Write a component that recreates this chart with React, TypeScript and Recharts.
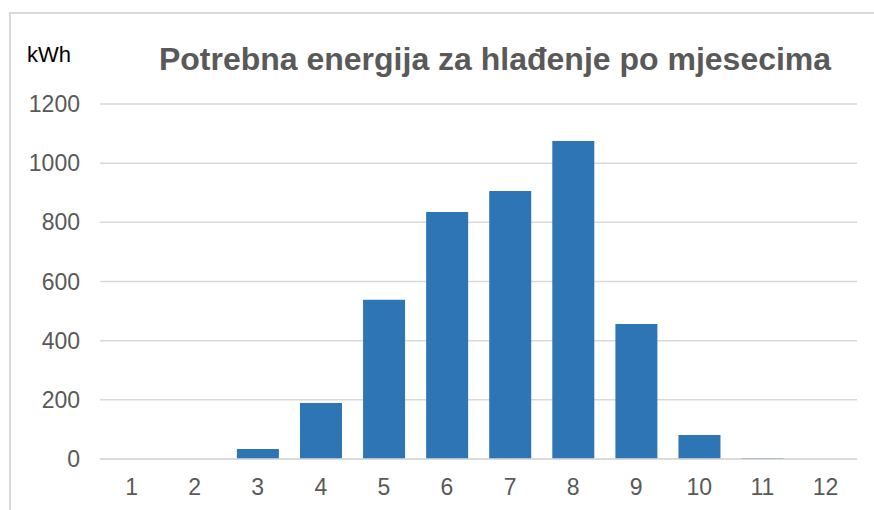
import { FC } from 'react';
import { BarChart, Bar, XAxis, YAxis, CartesianGrid } from 'recharts';

const months = ['1', '2', '3', '4', '5', '6', '7', '8', '9', '10', '11', '12'];
const energy = [0, 0, 34, 189, 538, 835, 906, 1075, 456, 81, 3, 0];
const yTicks = [0, 200, 400, 600, 800, 1000, 1200];

const chartData = months.map((m, i) => ({ month: m, kwh: energy[i] }));

const font = '"Liberation Sans", Arial, sans-serif';

const App: FC = () => {
  return (
    <div
      style={{
        position: 'absolute',
        left: 0,
        top: 0,
        width: 874,
        height: 510,
        overflow: 'hidden',
        background: '#fff',
        fontFamily: font
      }}
    >
      <div
        style={{
          position: 'absolute',
          left: 9,
          top: 12,
          width: 900,
          height: 600,
          border: '2px solid #d9d9d9'
        }}
      />
      <div
        style={{
          position: 'absolute',
          left: 27,
          top: 42,
          fontSize: 22,
          color: '#000'
        }}
      >
        kWh
      </div>
      <div
        style={{
          position: 'absolute',
          left: 0,
          width: 990,
          top: 41,
          textAlign: 'center',
          fontSize: 32,
          fontWeight: 'bold',
          color: '#595959'
        }}
      >
        Potrebna energija za hlađenje po mjesecima
      </div>
      <BarChart
        width={874}
        height={510}
        data={chartData}
        margin={{ top: 104, right: 17, bottom: 21, left: 10 }}
        barCategoryGap="17%"
        style={{ position: 'absolute', left: 0, top: 0 }}
      >
        <CartesianGrid vertical={false} stroke="#d9d9d9" strokeWidth={1.5} />
        <XAxis
          dataKey="month"
          height={30}
          tickLine={false}
          axisLine={{ stroke: '#d9d9d9', strokeWidth: 1.5 }}
          tick={{ fill: '#595959', fontSize: 23, fontFamily: font }}
          tickMargin={14}
        />
        <YAxis
          width={90}
          domain={[0, 1200]}
          ticks={yTicks}
          tickLine={false}
          axisLine={false}
          tick={{ fill: '#595959', fontSize: 23, fontFamily: font }}
          tickMargin={14}
        />
        <Bar dataKey="kwh" fill="#2e75b6" isAnimationActive={false} />
      </BarChart>
    </div>
  );
};

export default App;
